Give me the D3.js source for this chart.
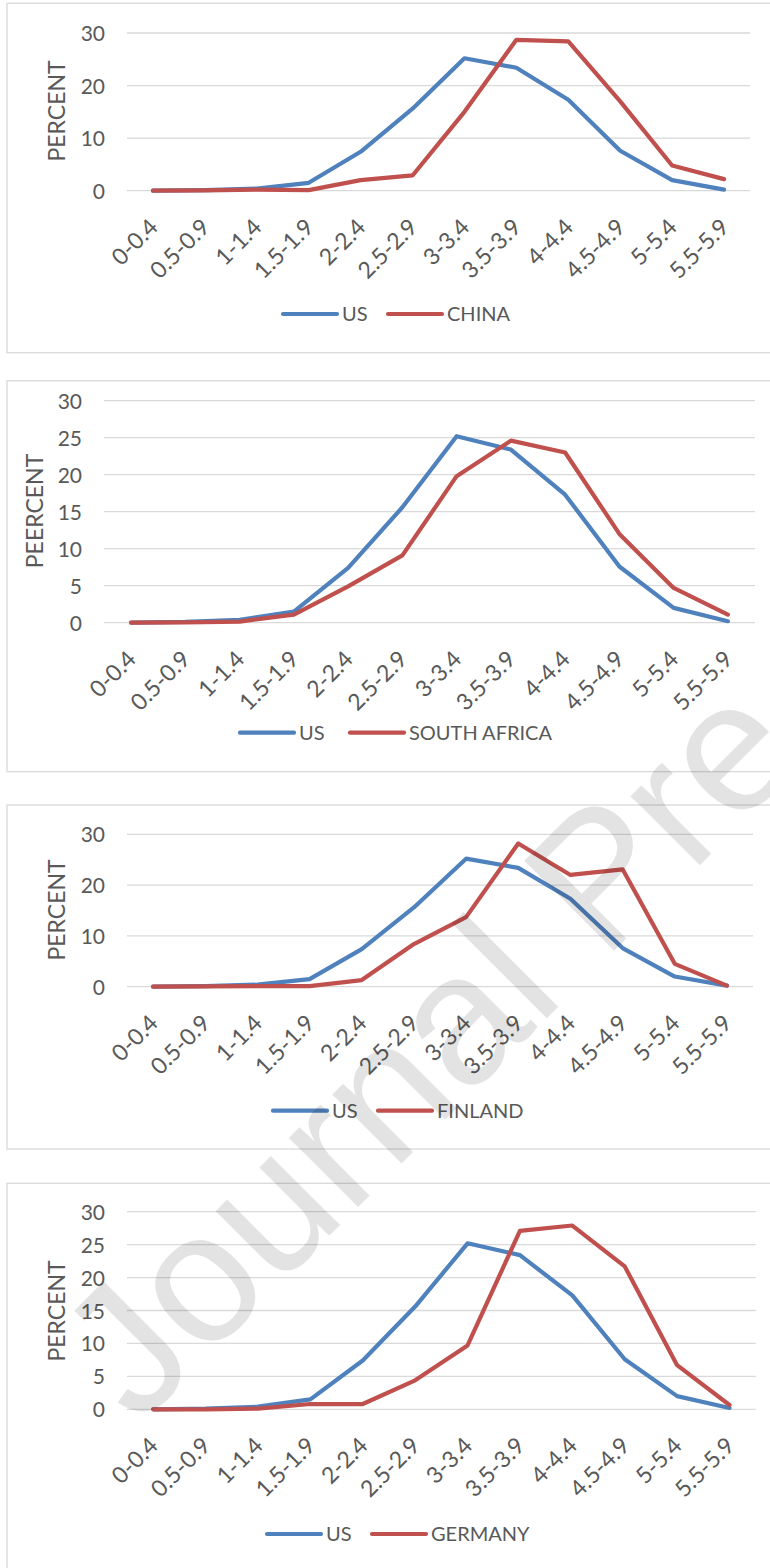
<!DOCTYPE html>
<html>
<head>
<meta charset="utf-8">
<script src="https://cdn.jsdelivr.net/npm/d3@7"></script>
<style>
  html, body { margin: 0; padding: 0; background: #fff; }
  svg { display: block; }
  text { font-family: Lato, "Open Sans", sans-serif; }
</style>
</head>
<body>
<div id="chart"></div>
<script>
// ---------------- data ----------------
const categories = ["0-0.4","0.5-0.9","1-1.4","1.5-1.9","2-2.4","2.5-2.9","3-3.4","3.5-3.9","4-4.4","4.5-4.9","5-5.4","5.5-5.9"];
const usValues           = [0, 0.1, 0.4, 1.5, 7.4, 15.6, 25.2, 23.4, 17.3, 7.6, 2.0, 0.2];
const chinaValues        = [0, 0.05, 0.2, 0.1, 2.0, 2.9, 15.0, 28.7, 28.4, 17.0, 4.8, 2.2];
const southAfricaValues  = [0, 0.05, 0.15, 1.1, 4.9, 9.1, 19.8, 24.6, 23.0, 12.0, 4.7, 1.1];
const finlandValues      = [0, 0.05, 0.1, 0.1, 1.3, 8.4, 13.7, 28.2, 22.0, 23.1, 4.5, 0.2];
const germanyValues      = [0, 0, 0.1, 0.8, 0.8, 4.4, 9.7, 27.1, 27.9, 21.7, 6.7, 0.65];
const seriesNames = ["US", "CHINA", "SOUTH AFRICA", "FINLAND", "GERMANY"];
const yTitles = ["PERCENT", "PEERCENT", "PERCENT", "PERCENT"];
const ticksTen = [0, 10, 20, 30];
const ticksFive = [0, 5, 10, 15, 20, 25, 30];
const watermarkText = "Journal Pre";

// ---------------- layout ----------------
const W = 770, H = 1568;
const BLUE = "#4F81BD", RED = "#C0504D", TXT = "#595959", GRID = "#D9D9D9";

const panels = [
  { other: chinaValues, otherName: seriesNames[1], title: yTitles[0], ticks: ticksTen,
    box: [7, 3.3, 352.7], x: [127, 750], y: [190.7, 33], titleX: 57, titleY: 111,
    legY: 314, legUS: 283, legOther: 388 },
  { other: southAfricaValues, otherName: seriesNames[2], title: yTitles[1], ticks: ticksFive,
    box: [7, 380.7, 771.7], x: [104, 755], y: [622.7, 400.7], titleX: 35, titleY: 511,
    legY: 732.7, legUS: 240, legOther: 350 },
  { other: finlandValues, otherName: seriesNames[3], title: yTitles[2], ticks: ticksTen,
    box: [7, 805, 1149], x: [127, 753], y: [986.7, 834.3], titleX: 57, titleY: 910,
    legY: 1110.7, legUS: 273, legOther: 378 },
  { other: germanyValues, otherName: seriesNames[4], title: yTitles[3], ticks: ticksFive,
    box: [7, 1183.3, 1600], x: [127, 755.7], y: [1409.3, 1211.7], titleX: 57, titleY: 1311,
    legY: 1534, legUS: 267, legOther: 372 }
];

const svg = d3.select("#chart").append("svg")
  .attr("width", W).attr("height", H);

panels.forEach(p => {
  const g = svg.append("g");
  g.append("rect")
    .attr("x", p.box[0]).attr("y", p.box[1])
    .attr("width", 800).attr("height", p.box[2] - p.box[1])
    .attr("fill", "none").attr("stroke", GRID).attr("stroke-width", 1.3);

  const x = d3.scalePoint().domain(categories).range(p.x).padding(0.5);
  const y = d3.scaleLinear().domain([0, 30]).range(p.y);

  g.append("g").selectAll("line").data(p.ticks).join("line")
    .attr("x1", p.x[0]).attr("x2", p.x[1])
    .attr("y1", d => y(d)).attr("y2", d => y(d))
    .attr("stroke", GRID).attr("stroke-width", 1.3);

  const ya = g.append("g")
    .attr("transform", `translate(${p.x[0] - 13},0)`)
    .call(d3.axisLeft(y).tickValues(p.ticks).tickSize(0).tickPadding(9));
  ya.select(".domain").remove();
  ya.selectAll("text").attr("fill", TXT).style("font-size", "21px")
    .style("font-family", "Lato, sans-serif").attr("dy", "0.36em");

  const xa = g.append("g")
    .attr("transform", `translate(0,${p.y[0] + 32})`)
    .call(d3.axisBottom(x).tickSize(0).tickPadding(0));
  xa.select(".domain").remove();
  xa.selectAll("text")
    .attr("fill", TXT).style("font-size", "23px").style("font-family", "Lato, sans-serif")
    .attr("text-anchor", "end")
    .attr("y", 0).attr("x", 0).attr("dy", "0.36em")
    .attr("transform", "rotate(-45)");

  g.append("text")
    .attr("transform", `translate(${p.titleX},${p.titleY}) rotate(-90)`)
    .attr("text-anchor", "middle").attr("dy", "0.36em")
    .attr("fill", TXT).style("font-size", "23px")
    .text(p.title);

  const line = d3.line().x((d, i) => x(categories[i])).y(d => y(d));
  g.append("path").datum(usValues)
    .attr("d", line).attr("fill", "none").attr("stroke", BLUE)
    .attr("stroke-width", 4.2).attr("stroke-linejoin", "round").attr("stroke-linecap", "round");
  g.append("path").datum(p.other)
    .attr("d", line).attr("fill", "none").attr("stroke", RED)
    .attr("stroke-width", 4.2).attr("stroke-linejoin", "round").attr("stroke-linecap", "round");

  const leg = [[seriesNames[0], BLUE, p.legUS], [p.otherName, RED, p.legOther]];
  leg.forEach(([name, col, lx]) => {
    g.append("line").attr("x1", lx).attr("x2", lx + 54)
      .attr("y1", p.legY).attr("y2", p.legY)
      .attr("stroke", col).attr("stroke-width", 4.2).attr("stroke-linecap", "round");
    g.append("text").attr("x", lx + 59).attr("y", p.legY).attr("dy", "0.36em")
      .attr("fill", TXT).style("font-size", "20px").text(name);
  });
});

// watermark
svg.append("text")
  .attr("transform", "translate(138,1427) rotate(-45)")
  .style("font-family", "'Liberation Sans', Arial, sans-serif")
  .style("font-size", "185px")
  .attr("fill", "#000").attr("fill-opacity", 0.11)
  .text(watermarkText);
</script>
</body>
</html>
